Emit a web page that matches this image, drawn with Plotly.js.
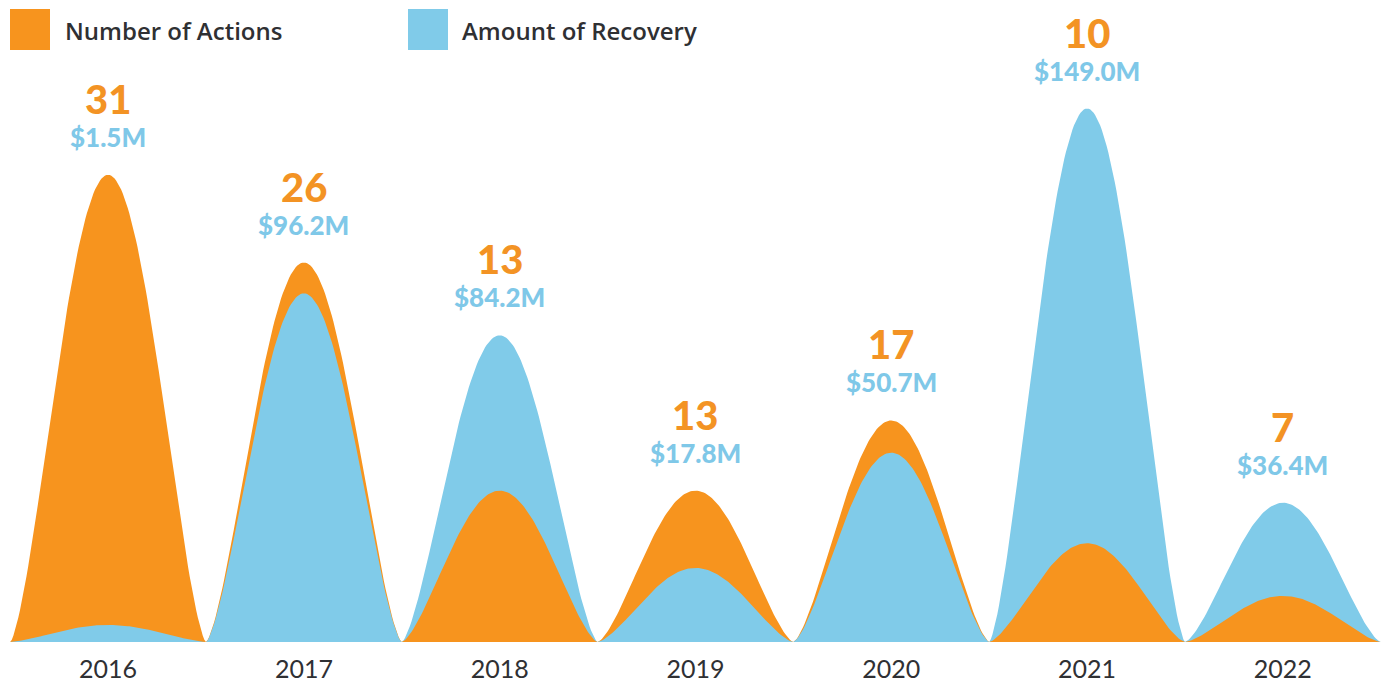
<!DOCTYPE html>
<html>
<head>
<meta charset="utf-8">
<script src="https://cdn.plot.ly/plotly-3.0.1.min.js"></script>
<style>
  html, body { margin: 0; padding: 0; background: #ffffff; }
  #chart { width: 1398px; height: 685px; }
</style>
</head>
<body>
<div id="chart"></div>
<script>
// ---- data ----
const years = [2016, 2017, 2018, 2019, 2020, 2021, 2022];
const numberOfActions = [31, 26, 13, 13, 17, 10, 7];
const amountOfRecovery = [1.5, 96.2, 84.2, 17.8, 50.7, 149.0, 36.4]; // $ millions
const seriesNames = ['Number of Actions', 'Amount of Recovery'];

// ---- scale settings (the chart uses a shared vertical scale) ----
const ACT_BASE = 4.37;          // actions value sitting on the baseline
const REC_BASE = -3.37;         // recovery value ($M) sitting on the baseline
const REC_PER_ACT_UNIT = 5.01;  // $M of recovery per one unit of the actions scale
const Y_TOP = 40.97;
const PEAK_POWER = 1.45;
const SAMPLES = 121;

const ORANGE = '#F7941E';
const BLUE = '#80CBE9';
const ORANGE_TXT = '#F39324';
const BLUE_TXT = '#7FC8E8';

function recToAxis(v) { return ACT_BASE + (v - REC_BASE) / REC_PER_ACT_UNIT; }

function bell(center, peak) {
  const xs = [], ys = [];
  for (let i = 0; i < SAMPLES; i++) {
    const t = -0.5 + i / (SAMPLES - 1);
    const c = Math.max(0, Math.cos(Math.PI * t));
    xs.push(center + t);
    ys.push(ACT_BASE + (peak - ACT_BASE) * Math.pow(c, PEAK_POWER));
  }
  return { xs, ys };
}

const traces = [];
const annotations = [];

years.forEach((yr, i) => {
  const parts = [
    { name: seriesNames[0], peak: numberOfActions[i], color: ORANGE },
    { name: seriesNames[1], peak: recToAxis(amountOfRecovery[i]), color: BLUE }
  ];
  parts.sort((a, b) => b.peak - a.peak); // taller shape behind
  parts.forEach(p => {
    const b = bell(yr, p.peak);
    traces.push({
      type: 'scatter', mode: 'lines', x: b.xs, y: b.ys,
      fill: 'tozeroy', fillcolor: p.color,
      line: { width: 0, color: p.color },
      name: p.name, showlegend: false, hoverinfo: 'skip'
    });
  });
  const top = Math.max(parts[0].peak, parts[1].peak);
  annotations.push({
    x: yr, y: top, xref: 'x', yref: 'y', yanchor: 'middle', yshift: 76,
    text: String(numberOfActions[i]), showarrow: false,
    font: { family: 'Lato', size: 40, weight: 900, color: ORANGE_TXT }
  });
  annotations.push({
    x: yr, y: top, xref: 'x', yref: 'y', yanchor: 'middle', yshift: 38,
    text: '$' + amountOfRecovery[i].toFixed(1) + 'M', showarrow: false,
    font: { family: 'Lato', size: 26, weight: 900, color: BLUE_TXT }
  });
});

// ---- legend (drawn as shapes + text to get the large square keys) ----
const PLOT_H = 642;
function py(p) { return 1 - p / PLOT_H; } // pixel from top -> paper
const shapes = [
  { type: 'rect', xref: 'paper', yref: 'paper', x0: 10 / 1398, x1: 50 / 1398, y0: py(50), y1: py(9),
    fillcolor: ORANGE, line: { width: 0 } },
  { type: 'rect', xref: 'paper', yref: 'paper', x0: 408 / 1398, x1: 448 / 1398, y0: py(50), y1: py(9),
    fillcolor: BLUE, line: { width: 0 } }
];
annotations.push({
  xref: 'paper', yref: 'paper', x: 63 / 1398, y: py(31), xanchor: 'left', yanchor: 'middle',
  text: seriesNames[0], showarrow: false,
  font: { family: 'Open Sans', size: 24, weight: 600, color: '#2f3033' }
});
annotations.push({
  xref: 'paper', yref: 'paper', x: 460 / 1398, y: py(31), xanchor: 'left', yanchor: 'middle',
  text: seriesNames[1], showarrow: false,
  font: { family: 'Open Sans', size: 24, weight: 600, color: '#2f3033' }
});

const layout = {
  width: 1398, height: 685,
  margin: { l: 0, r: 0, t: 0, b: 43, pad: 0 },
  paper_bgcolor: '#ffffff', plot_bgcolor: '#ffffff',
  showlegend: false,
  xaxis: {
    range: [2015.448, 2022.588],
    tickvals: years, ticktext: years.map(String),
    showgrid: false, zeroline: false, showline: false, ticks: '',
    ticklabelstandoff: 10,
    tickfont: { family: 'Lato', size: 25, weight: 400, color: '#2f3033' },
    fixedrange: true
  },
  yaxis: {
    range: [ACT_BASE, Y_TOP],
    showgrid: false, zeroline: false, showline: false, showticklabels: false, ticks: '',
    fixedrange: true
  },
  shapes: shapes,
  annotations: annotations
};

Plotly.newPlot('chart', traces, layout, { displayModeBar: false, staticPlot: true });
</script>
</body>
</html>
